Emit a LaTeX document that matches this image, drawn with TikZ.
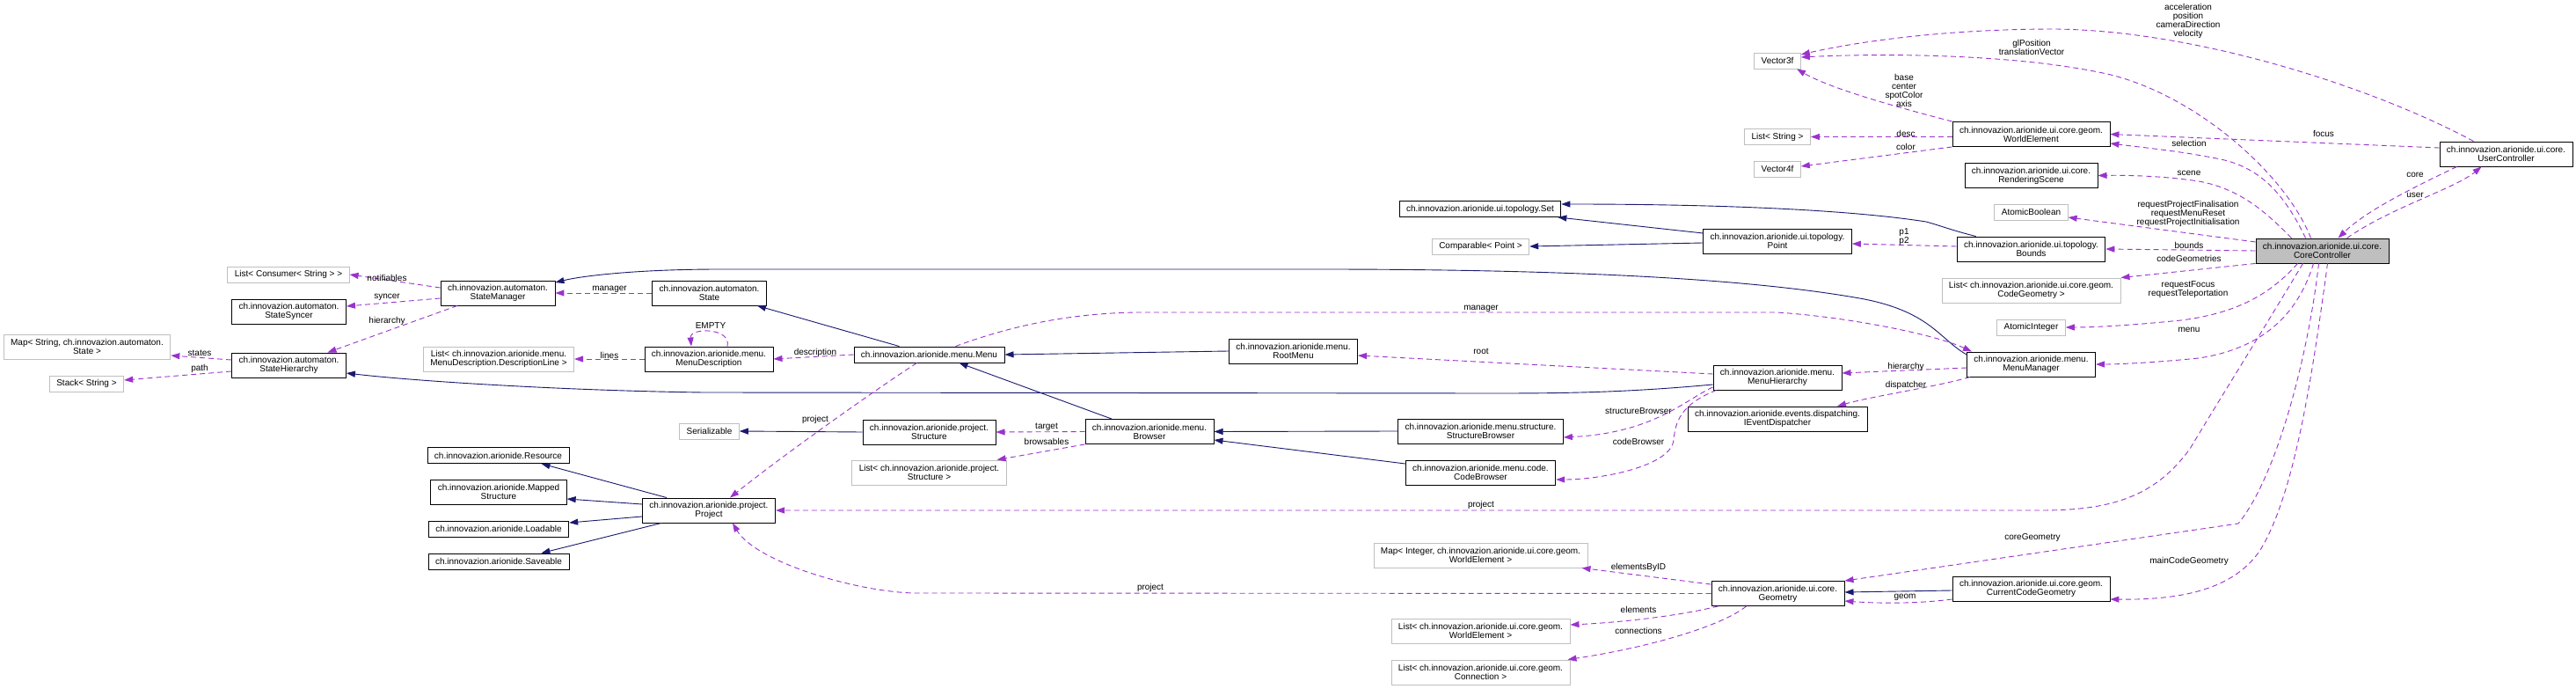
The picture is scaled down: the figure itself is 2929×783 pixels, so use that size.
\documentclass[tikz,border=0pt]{standalone}
\usepackage{fontspec}
\setmainfont{Liberation Sans}
\usetikzlibrary{arrows.meta}
\definecolor{edgeblue}{HTML}{191970}
\definecolor{edgeviolet}{HTML}{9A32CD}
\definecolor{extgray}{HTML}{BFBFBF}
\tikzset{
  cls/.style={draw=black, line width=0.9pt, inner xsep=8pt, inner ysep=2pt, minimum height=18pt, align=center, font=\fontsize{10}{10}\selectfont},
  dbl/.style={minimum height=28pt},
  ext/.style={cls, draw=extgray},
  focal/.style={cls, fill=extgray},
  lbl/.style={inner sep=0pt, align=center, font=\fontsize{10}{10}\selectfont},
  inherit/.style={-{Triangle[length=10pt,width=7pt]}, line width=0.9pt, draw=edgeblue},
  member/.style={-{Triangle[length=10pt,width=7pt]}, line width=0.9pt, draw=edgeviolet, dash pattern=on 6pt off 4pt}
}

\begin{document}
\begin{tikzpicture}[x=1pt, y=-1pt]
  \path[use as bounding box, fill=white] (0,0) rectangle (2929,783);

  \node[ext] (lcons) at (328,312) {List< Consumer< String > >};
  \node[cls, dbl] (syncer) at (328.5,354) {ch.innovazion.automaton.\\StateSyncer};
  \node[ext, dbl] (mapstate) at (99,394) {Map< String, ch.innovazion.automaton.\\State >};
  \node[cls, dbl] (hier) at (328.5,415) {ch.innovazion.automaton.\\StateHierarchy};
  \node[ext] (stack) at (98.5,436) {Stack< String >};
  \node[cls, dbl] (smgr) at (566,333) {ch.innovazion.automaton.\\StateManager};
  \node[cls, dbl] (state) at (806.5,333) {ch.innovazion.automaton.\\State};
  \node[ext, dbl] (ldesc) at (567,408) {List< ch.innovazion.arionide.menu.\\MenuDescription.DescriptionLine >};
  \node[cls, dbl] (mdesc) at (806,408) {ch.innovazion.arionide.menu.\\MenuDescription};
  \node[cls] (menu) at (1056.5,403) {ch.innovazion.arionide.menu.Menu};
  \node[cls, dbl] (root) at (1470.5,399) {ch.innovazion.arionide.menu.\\RootMenu};
  \node[ext] (serial) at (806.5,490) {Serializable};
  \node[cls, dbl] (struct) at (1056.5,491) {ch.innovazion.arionide.project.\\Structure};
  \node[cls, dbl] (browser) at (1307,490.5) {ch.innovazion.arionide.menu.\\Browser};
  \node[ext, dbl] (lstruct) at (1056.5,537) {List< ch.innovazion.arionide.project.\\Structure >};
  \node[cls] (resource) at (566.5,517.5) {ch.innovazion.arionide.Resource};
  \node[cls, dbl] (mapped) at (567,559) {ch.innovazion.arionide.Mapped\\Structure};
  \node[cls] (loadable) at (567,601) {ch.innovazion.arionide.Loadable};
  \node[cls] (saveable) at (567,638) {ch.innovazion.arionide.Saveable};
  \node[cls, dbl] (project) at (806,580) {ch.innovazion.arionide.project.\\Project};
  \node[cls, dbl] (sbrowser) at (1683.5,490) {ch.innovazion.arionide.menu.structure.\\StructureBrowser};
  \node[cls, dbl] (cbrowser) at (1683.5,537) {ch.innovazion.arionide.menu.code.\\CodeBrowser};
  \node[cls, dbl] (mhier) at (2021,429) {ch.innovazion.arionide.menu.\\MenuHierarchy};
  \node[cls, dbl] (dispatch) at (2021,476) {ch.innovazion.arionide.events.dispatching.\\IEventDispatcher};
  \node[cls, dbl] (mmgr) at (2309.5,414) {ch.innovazion.arionide.menu.\\MenuManager};
  \node[cls] (tset) at (1683,237.5) {ch.innovazion.arionide.ui.topology.Set};
  \node[ext] (comparable) at (1683.5,280) {Comparable< Point >};
  \node[cls, dbl] (point) at (2021,274) {ch.innovazion.arionide.ui.topology.\\Point};
  \node[cls, dbl] (bounds) at (2309.5,283) {ch.innovazion.arionide.ui.topology.\\Bounds};
  \node[ext] (abool) at (2309.5,241) {AtomicBoolean};
  \node[ext, dbl] (lcode) at (2309.5,330) {List< ch.innovazion.arionide.ui.core.geom.\\CodeGeometry >};
  \node[ext] (aint) at (2309.5,372) {AtomicInteger};
  \node[cls, dbl] (scene) at (2309.5,199.5) {ch.innovazion.arionide.ui.core.\\RenderingScene};
  \node[cls, dbl] (welem) at (2309.5,152.5) {ch.innovazion.arionide.ui.core.geom.\\WorldElement};
  \node[ext] (vec3) at (2021,69) {Vector3f};
  \node[ext] (lstr) at (2021,155.5) {List< String >};
  \node[ext] (vec4) at (2021,192) {Vector4f};
  \node[focal, dbl] (core) at (2640.5,285) {ch.innovazion.arionide.ui.core.\\CoreController};
  \node[cls, dbl] (user) at (2849.5,175) {ch.innovazion.arionide.ui.core.\\UserController};
  \node[ext, dbl] (mapint) at (1683.5,631) {Map< Integer, ch.innovazion.arionide.ui.core.geom.\\WorldElement >};
  \node[cls, dbl] (geometry) at (2021.5,674.5) {ch.innovazion.arionide.ui.core.\\Geometry};
  \node[cls, dbl] (ccg) at (2309.5,669) {ch.innovazion.arionide.ui.core.geom.\\CurrentCodeGeometry};
  \node[ext, dbl] (lwe) at (1683.5,717) {List< ch.innovazion.arionide.ui.core.geom.\\WorldElement >};
  \node[ext, dbl] (lconn) at (1683.5,764) {List< ch.innovazion.arionide.ui.core.geom.\\Connection >};

  \draw[inherit] ([yshift=11pt]mmgr.west) .. controls (2205,385) and (2195,355) .. (2120,340) .. controls (2000,318) and (1800,306) .. (1500,306) -- (820,306) .. controls (720,306) and (660,314) .. ([yshift=12pt]smgr.east);
  \draw[inherit] ([xshift=-34pt]menu.north) -- ([xshift=-11pt]state.south east);
  \draw[inherit] ([yshift=-8pt]mhier.west) .. controls (1850,446) and (1780,447) .. (1700,447) -- (800,446) .. controls (650,444) and (480,434) .. ([yshift=-9pt]hier.east);
  \draw[inherit] (root.west) -- (menu.east);
  \draw[inherit] ([xshift=-43pt]browser.north) -- ([xshift=34pt]menu.south);
  \draw[inherit] (struct.west) -- (serial.east);
  \draw[inherit] (sbrowser.west) -- (browser.east);
  \draw[inherit] ([yshift=10pt]cbrowser.west) -- ([yshift=-9.5pt]browser.east);
  \draw[inherit] ([yshift=9pt]point.west) -- ([xshift=-4pt]tset.south east);
  \draw[inherit] ([yshift=-2pt]point.west) -- (comparable.east);
  \draw[inherit] ([xshift=22pt]bounds.north west) .. controls (2220,262) and (2205,256) .. (2190,252) .. controls (2100,238) and (1950,232) .. ([yshift=5.5pt]tset.east);
  \draw[inherit] ([xshift=28pt]project.north west) -- ([xshift=-32pt]resource.south east);
  \draw[inherit] ([yshift=7pt]project.west) -- ([yshift=-8pt]mapped.east);
  \draw[inherit] ([yshift=-7pt]project.west) -- ([yshift=7pt]loadable.east);
  \draw[inherit] ([xshift=22pt]project.south west) -- ([xshift=-32pt]saveable.north east);
  \draw[inherit] ([yshift=-2pt]ccg.west) -- ([yshift=1.5pt]geometry.east);

  \draw[member] ([yshift=6pt]smgr.west) -- (lcons.east);
  \node[lbl] (lnotif) at (440,316) {notifiables};
  \draw[member] ([yshift=-6pt]smgr.west) -- ([yshift=6pt]syncer.east);
  \node[lbl] (lsyncer) at (440,338) {syncer};
  \draw[member] ([xshift=-46pt]smgr.south) -- ([xshift=44pt]hier.north);
  \node[lbl] (lhier) at (440,365) {hierarchy};
  \draw[member] ([yshift=6pt]hier.west) -- ([yshift=-10pt]mapstate.east);
  \node[lbl] (lstates) at (227,401) {states};
  \draw[member] ([yshift=-7pt]hier.west) -- ([yshift=4pt]stack.east);
  \node[lbl] (lpath) at (227,419) {path};
  \draw[member] (state.west) -- (smgr.east);
  \node[lbl] (lsmgr) at (693,329) {manager};
  \draw[member] (mdesc.west) -- (ldesc.east);
  \node[lbl] (llines) at (693,404) {lines};
  \draw[member] ([xshift=21pt]mdesc.north) .. controls (832,372) and (784,372) .. ([xshift=-20pt]mdesc.north);
  \node[lbl] (lempty) at (808,370) {EMPTY};
  \draw[member] (menu.west) -- (mdesc.east);
  \node[lbl] (ldescr) at (927,401) {description};
  \draw[member] ([xshift=-14pt]menu.south) .. controls (1000,440) and (900,510) .. ([xshift=24pt]project.north);
  \node[lbl] (lmproj) at (927,477) {project};
  \draw[member] ([xshift=30pt]menu.north) .. controls (1150,370) and (1220,355) .. (1300,355) -- (2020,355) .. controls (2100,360) and (2200,380) .. ([xshift=-67.5pt]mmgr.north);
  \node[lbl] (lmmgr) at (1684,351) {manager};
  \draw[member] ([yshift=-4pt]mmgr.west) -- ([yshift=5pt]mhier.east);
  \node[lbl] (lmhier) at (2167,417) {hierarchy};
  \draw[member] ([xshift=-69.5pt]mmgr.south) .. controls (2200,440) and (2130,450) .. ([xshift=68pt]dispatch.north);
  \node[lbl] (ldisp) at (2167,438) {dispatcher};
  \draw[member] ([yshift=4pt]mhier.west) -- ([yshift=-5pt]root.east);
  \node[lbl] (lroot) at (1684,399) {root};
  \draw[member] ([yshift=-11pt]mhier.west) .. controls (1915,455) and (1880,492) .. ([yshift=-7pt]sbrowser.east);
  \node[lbl] (lsbrow) at (1863,467) {structureBrowser};
  \draw[member] ([xshift=4pt]mhier.south west) .. controls (1910,460) and (1905,480) .. (1903,500) .. controls (1900,530) and (1820,545) .. ([yshift=-8pt]cbrowser.east);
  \node[lbl] (lcbrow) at (1863,502) {codeBrowser};
  \draw[member] (browser.west) -- (struct.east);
  \node[lbl] (ltarget) at (1190,485) {target};
  \draw[member] (browser.south west) -- ([xshift=-11pt]lstruct.north east);
  \node[lbl] (lbrows) at (1190,502) {browsables};

  \draw[member] ([xshift=-22pt]core.south) .. controls (2570,380) and (2520,460) .. (2490,510) .. controls (2450,565) and (2400,580) .. (2320,580) -- (project.east);
  \node[lbl] (lcproj) at (1684,574) {project};
  \draw[member] ([xshift=-4pt]core.south) .. controls (2625,400) and (2590,540) .. (2545,595) -- (geometry.north east);
  \node[lbl] (lcgeom) at (2311,611) {coreGeometry};
  \draw[member] ([xshift=6pt]core.south) .. controls (2630,420) and (2610,560) .. (2570,625) .. controls (2540,670) and (2480,682) .. ([yshift=-12pt]ccg.east);
  \node[lbl] (lmcg) at (2489,638) {mainCodeGeometry};
  \draw[member] (geometry.west) -- (1043,674) .. controls (980,674) and (860,640) .. ([xshift=27pt]project.south);
  \node[lbl] (lgproj) at (1308,668) {project};
  \draw[member] ([yshift=-4pt]geometry.north west) -- ([xshift=-7pt]mapint.south east);
  \node[lbl] (lbyid) at (1863,645) {elementsByID};
  \draw[member] ([xshift=8pt]geometry.south west) .. controls (1900,702) and (1830,708) .. ([yshift=7pt]lwe.east);
  \node[lbl] (lelems) at (1863,693) {elements};
  \draw[member] ([xshift=-36pt]geometry.south) .. controls (1960,710) and (1880,735) .. ([xshift=-3pt]lconn.north east);
  \node[lbl] (lconns) at (1863,717) {connections};
  \draw[member] ([yshift=-12pt]ccg.west) .. controls (2180,686) and (2140,686) .. ([yshift=-8.5pt]geometry.east);
  \node[lbl] (lgeom) at (2166,679) {geom};

  \draw[member] ([xshift=-19pt]core.north) .. controls (2595,215) and (2565,188) .. (2520,180) .. controls (2480,172) and (2440,168) .. ([yshift=-10.5pt]welem.east);
  \node[lbl] (lsel) at (2489,163) {selection};
  \draw[member] ([yshift=7pt]user.west) -- (welem.east);
  \node[lbl] (lfocus) at (2642,152) {focus};
  \draw[member] ([xshift=-35pt]core.north) .. controls (2580,245) and (2550,215) .. (2500,206) .. controls (2460,200) and (2420,199) .. (scene.east);
  \node[lbl] (lscene) at (2489,197) {scene};
  \draw[member] ([yshift=10pt]core.west) -- ([yshift=-6pt]abool.east);
  \node[lbl] (lreq) at (2488,243) {requestProjectFinalisation\\requestMenuReset\\requestProjectInitialisation};
  \draw[member] (core.west) -- (bounds.east);
  \node[lbl] (lbounds) at (2489,279) {bounds};
  \draw[member] (core.south west) -- (lcode.north east);
  \node[lbl] (lcodes) at (2489,294) {codeGeometries};
  \draw[member] ([xshift=-28pt]core.south) .. controls (2585,330) and (2550,355) .. (2480,364) .. controls (2420,370) and (2380,372) .. (aint.east);
  \node[lbl] (lfocreq) at (2488,329) {requestFocus\\requestTeleportation};
  \draw[member] ([xshift=-10pt]core.south) .. controls (2615,350) and (2580,395) .. (2500,407) .. controls (2450,412) and (2410,414) .. (mmgr.east);
  \node[lbl] (lmenu) at (2489,375) {menu};
  \draw[member] ([xshift=28pt]core.north) .. controls (2720,235) and (2790,215) .. ([xshift=-28pt]user.south);
  \node[lbl] (luser) at (2746,222) {user};
  \draw[member] ([xshift=-56pt]user.south) .. controls (2740,215) and (2690,240) .. ([xshift=18pt]core.north);
  \node[lbl] (lcore) at (2746,199) {core};
  \draw[member] ([xshift=-37pt]user.north) .. controls (2700,100) and (2500,35) .. (2337,33) .. controls (2200,33) and (2100,50) .. ([yshift=7pt]vec3.east);
  \node[lbl] (lmotion) at (2488,24) {acceleration\\position\\cameraDirection\\velocity};
  \draw[member] ([xshift=-13pt]core.north) .. controls (2600,200) and (2500,110) .. (2400,85) .. controls (2300,62) and (2150,60) .. ([yshift=4pt]vec3.east);
  \node[lbl] (lglpos) at (2310,54) {glPosition\\translationVector};
  \draw[member] (welem.north west) .. controls (2150,120) and (2080,100) .. ([xshift=22pt]vec3.south);
  \node[lbl] (lbase) at (2165,103) {base\\center\\spotColor\\axis};
  \draw[member] ([yshift=-3pt]welem.west) -- (lstr.east);
  \node[lbl] (ldesc2) at (2167,152) {desc};
  \draw[member] (welem.south west) -- ([yshift=3pt]vec4.east);
  \node[lbl] (lcolor) at (2167,167) {color};
  \draw[member] ([yshift=3pt]bounds.west) -- ([yshift=-3pt]point.east);
  \node[lbl] (lpts) at (2165,269) {p1\\p2};
\end{tikzpicture}
\end{document}
